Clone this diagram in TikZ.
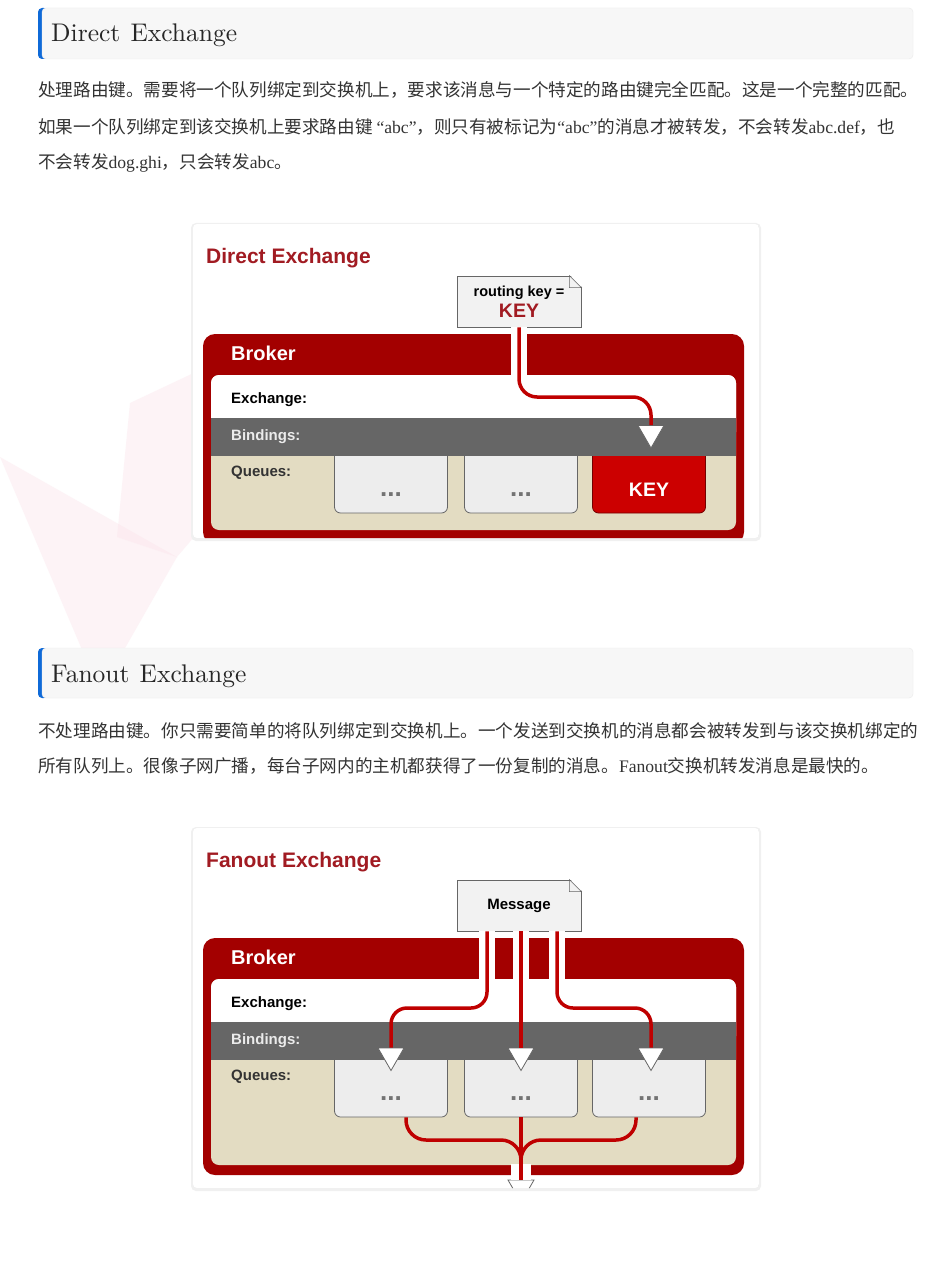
\documentclass[tikz,border=0pt]{standalone}
\usepackage{fontspec}
\usepackage{tikz}
\usetikzlibrary{positioning,shapes.geometric}
\newfontfamily\headfont{lmroman10-regular}[Extension=.otf]
\newfontfamily\diagfont{Liberation Sans}
\newfontfamily\cjkfont{Noto Sans CJK SC}
\newfontfamily\latfont{Liberation Serif}
\definecolor{brokerred}{HTML}{A30000}
\definecolor{titlered}{HTML}{A11B22}
\definecolor{flowred}{HTML}{BF0000}
\definecolor{keyred}{HTML}{CC0000}
\definecolor{bindgray}{HTML}{666666}
\definecolor{queuebeige}{HTML}{E3DCC2}
\definecolor{qfill}{HTML}{EDEDED}
\definecolor{msgfill}{HTML}{F2F2F2}
\definecolor{headbg}{HTML}{F7F7F7}
\definecolor{headbar}{HTML}{0F6AD8}
\definecolor{bodytext}{HTML}{333333}
\definecolor{wmpink}{HTML}{FBE3EA}
\newcommand{\dfs}[1]{\diagfont\bfseries\fontsize{#1}{#1}\selectfont}

\begin{document}
\begin{tikzpicture}[x=1pt, y=-1pt,
  heading/.style={anchor=base west, text=black!85, font=\headfont\fontsize{25.5}{28}\selectfont, inner sep=0pt},
  bodyline/.style={anchor=base west, text=bodytext, font=\cjkfont\fontsize{17.6}{20}\selectfont, inner sep=0pt},
  dtitle/.style={anchor=west, text=titlered, font=\dfs{21}, inner sep=0pt},
  rowlabel/.style={anchor=west, font=\dfs{15}, inner sep=0pt},
  msgbox/.style={draw=black!60, fill=msgfill, line width=0.8pt, minimum width=124pt, minimum height=51pt, inner sep=0pt, align=center, font=\dfs{14.5}},
  qbox/.style={draw=black!60, fill=qfill, line width=0.8pt, rounded corners=6pt, minimum width=113pt, minimum height=63pt, text height=29pt, text depth=0pt, inner sep=0pt, text=black!55, font=\dfs{26}},
  keybox/.style={qbox, fill=keyred, draw=brokerred!70!black, text=white, font=\dfs{19.5}},
  tri/.style={regular polygon, regular polygon sides=3, shape border rotate=180, draw=black!60, fill=white, line width=0.8pt, minimum size=30pt, inner sep=0pt},
  flow/.style={draw=flowred, line width=3.5pt},
  casing/.style={draw=white, line width=16pt},
]
\useasboundingbox (0,0) rectangle (952,1273);
\fill[white] (0,0) rectangle (952,1273);
% faint watermark
\fill[wmpink, opacity=0.4] (0,457) -- (177,557) -- (100,692) -- cycle;
\fill[wmpink, opacity=0.4] (130,403) -- (200,370) -- (200,530) -- (177,557) -- (117,537) -- cycle;

% ---------- Section 1: Direct Exchange ----------
\fill[headbar, rounded corners=4pt] (38,8) rectangle (48,59);
\fill[headbg, draw=black!8, rounded corners=4pt] (42,8) rectangle (913,59);
\node[heading] (h1) at (51,42) {Direct\hspace{0.4em}Exchange};
\node[bodyline] (p11) at (38,97) {处理路由键。需要将一个队列绑定到交换机上，要求该消息与一个特定的路由键完全匹配。这是一个完整的匹配。};
\node[bodyline] (p12) at (38,134) {如果一个队列绑定到该交换机上要求路由键 {\latfont “abc”}，则只有被标记为{\latfont “abc”}的消息才被转发，不会转发{\latfont abc.def}，也};
\node[bodyline] (p13) at (38,169) {不会转发{\latfont dog.ghi}，只会转发{\latfont abc}。};

\begin{scope}
\fill[black!6, rounded corners=5pt] (191,223) rectangle (761,541);
\begin{scope}
\clip[rounded corners=4pt] (193,224) rectangle (759,538);
\fill[white] (193,224) rectangle (759,538);
\node[dtitle] (dtitle) at (206,258) {Direct Exchange};
% broker
\fill[brokerred, rounded corners=12pt] (203,334) rectangle (744,544);
\fill[queuebeige, rounded corners=8pt] (211,375) rectangle (736,530);
\fill[white, rounded corners=8pt] (211,375) rectangle (736,440);
\node[rowlabel, text=white, font=\dfs{20}] (broker) at (231,353) {Broker};
\node[qbox] (q1) at (391,481.5) {...};
\node[qbox] (q2) at (521,481.5) {...};
\node[keybox] (q3) at (649,481.5) {KEY};
\fill[bindgray] (211,418) rectangle (736,456);
\node[rowlabel, text=black] (lex) at (231,400) {Exchange:};
\node[rowlabel, text=black!8] (lbi) at (231,437) {Bindings:};
\node[rowlabel, text=black!80] (lqu) at (231,473) {Queues:};
% routing key note
\node[msgbox] (key) at (519,301.5) {routing key =\\[4pt]{\fontsize{19.5}{20}\selectfont\color{titlered}KEY}};
\fill[white] ([xshift=-12pt,yshift=1pt]key.north east) -- ([xshift=1pt,yshift=1pt]key.north east) -- ([xshift=1pt,yshift=-12pt]key.north east) -- cycle;
\draw[black!60, line width=0.6pt] ([xshift=-12pt]key.north east) -- ([yshift=-12pt]key.north east) -- ([xshift=-12pt,yshift=-12pt]key.north east) -- cycle;
\node[tri] (t3) at (651,433) {};
\draw[casing] (key.south) -- (key.south |- 0,376);
\draw[flow, rounded corners=18pt] (key.south) |- (t3.north |- 0,397) -- (t3.north);
\end{scope}
\end{scope}

% ---------- Section 2: Fanout Exchange ----------
\fill[headbar, rounded corners=4pt] (38,648) rectangle (48,698);
\fill[headbg, draw=black!8, rounded corners=4pt] (42,648) rectangle (913,698);
\node[heading] (h2) at (51,682) {Fanout\hspace{0.4em}Exchange};
\node[bodyline] (p21) at (38,737) {不处理路由键。你只需要简单的将队列绑定到交换机上。一个发送到交换机的消息都会被转发到与该交换机绑定的};
\node[bodyline] (p22) at (38,772) {所有队列上。很像子网广播，每台子网内的主机都获得了一份复制的消息。{\latfont Fanout}交换机转发消息是最快的。};

\begin{scope}[shift={(0,604)}]
\fill[black!6, rounded corners=5pt] (191,223) rectangle (761,587);
\begin{scope}
\clip[rounded corners=4pt] (193,224) rectangle (759,584);
\fill[white] (193,224) rectangle (759,584);
\node[dtitle] (ftitle) at (206,258) {Fanout Exchange};
% broker
\fill[brokerred, rounded corners=12pt] (203,334) rectangle (744,571);
\fill[queuebeige, rounded corners=8pt] (211,375) rectangle (736,561);
\fill[white, rounded corners=8pt] (211,375) rectangle (736,440);
\node[rowlabel, text=white, font=\dfs{20}] (fbroker) at (231,353) {Broker};
\node[qbox] (q1) at (391,481.5) {...};
\node[qbox] (q2) at (521,481.5) {...};
\node[qbox] (q3) at (649,481.5) {...};
\fill[bindgray] (211,418) rectangle (736,456);
\node[rowlabel, text=black] (fex) at (231,400) {Exchange:};
\node[rowlabel, text=black!8] (fbi) at (231,437) {Bindings:};
\node[rowlabel, text=black!80] (fqu) at (231,473) {Queues:};
% message note
\node[msgbox, font=\dfs{15}] (msg) at (519,301.5) {Message};
\fill[white] ([xshift=-12pt,yshift=1pt]msg.north east) -- ([xshift=1pt,yshift=1pt]msg.north east) -- ([xshift=1pt,yshift=-12pt]msg.north east) -- cycle;
\draw[black!60, line width=0.6pt] ([xshift=-12pt]msg.north east) -- ([yshift=-12pt]msg.north east) -- ([xshift=-12pt,yshift=-12pt]msg.north east) -- cycle;
\node[tri] (t1) at (391,451.5) {};
\node[tri] (t2) at (521,451.5) {};
\node[tri] (t3) at (651,451.5) {};
\node[tri] (out) at (521,583.5) {};
\coordinate (m1) at ([xshift=-32pt]msg.south);
\coordinate (m2) at ([xshift=2pt]msg.south);
\coordinate (m3) at ([xshift=38pt]msg.south);
\coordinate (b1) at ([xshift=15pt]q1.south);
\coordinate (b2) at (q2.south);
\coordinate (b3) at ([xshift=-13pt]q3.south);
\foreach \m in {m1,m2,m3}
  \draw[casing] (\m) -- (\m |- 0,376);
\draw[casing, line width=20pt] (out.north |- 0,560) -- (out.north);
\draw[flow, rounded corners=16pt] (m1) |- (t1.north |- 0,404) -- (t1.north);
\draw[flow] (m2) -- (t2.north);
\draw[flow, rounded corners=16pt] (m3) |- (t3.north |- 0,404) -- (t3.north);
\draw[flow, rounded corners=20pt] (b1) |- (out.north |- 0,536) -- (out.north);
\draw[flow] (b2) -- (out.north);
\draw[flow, rounded corners=20pt] (b3) |- (out.north |- 0,536) -- (out.north);
\end{scope}
\end{scope}
\end{tikzpicture}
\end{document}
